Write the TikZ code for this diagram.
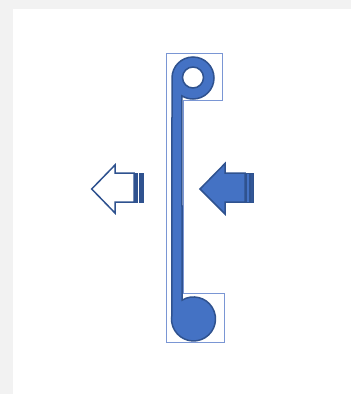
\documentclass[tikz,border=0pt]{standalone}
\definecolor{bgray}{HTML}{F2F2F2}
\definecolor{fillblue}{HTML}{4472C4}
\definecolor{darkblue}{HTML}{2F528F}
\definecolor{thinblue}{HTML}{7A96D4}
\begin{document}
\begin{tikzpicture}[x=1pt,y=-1pt,
  shapeline/.style={draw=darkblue,line width=1.5pt,line join=miter},
  selbox/.style={draw=thinblue,line width=0.8pt}]
\useasboundingbox (0,0) rectangle (351,394);
\fill[bgray] (0,0) rectangle (351,394);
\fill[white] (13,9) rectangle (351,394);
% thin outline
\draw[selbox] (166.5,53) -- (222.5,53) -- (222.5,100.5) -- (183,100.5) -- (183,293.5) -- (224,293.5) -- (224,342.5) -- (166.5,342.5) -- cycle;
% rod with ring and disc
\path[shapeline,fill=fillblue,even odd rule]
  (172,78) arc[start angle=180,end angle=481.6,radius=21]
  -- (182,300.2) arc[start angle=238.5,end angle=552.2,radius=22]
  -- cycle
  (203.5,77.5) arc[start angle=0,end angle=360,radius=10.5];
% left (outline) striped arrow
\path[shapeline,fill=white] (134,173) -- (115,173) -- (115,165) -- (91.7,189) -- (115,213) -- (115,202) -- (134,202) -- cycle;
\path[draw=darkblue,line width=0.8pt,fill=darkblue] (135,173) rectangle (137.5,202);
\path[draw=darkblue,line width=0.8pt,fill=darkblue] (139,173) rectangle (143.3,202);
% right (filled) striped arrow
\path[shapeline,fill=fillblue] (245,173) -- (225,173) -- (225,163.5) -- (200,189) -- (225,214) -- (225,202) -- (245,202) -- cycle;
\path[draw=darkblue,line width=0.8pt,fill=fillblue] (246.5,173) rectangle (249,202);
\path[draw=darkblue,line width=0.8pt,fill=darkblue!85!fillblue] (250.5,173) rectangle (253.5,202);
\end{tikzpicture}
\end{document}
